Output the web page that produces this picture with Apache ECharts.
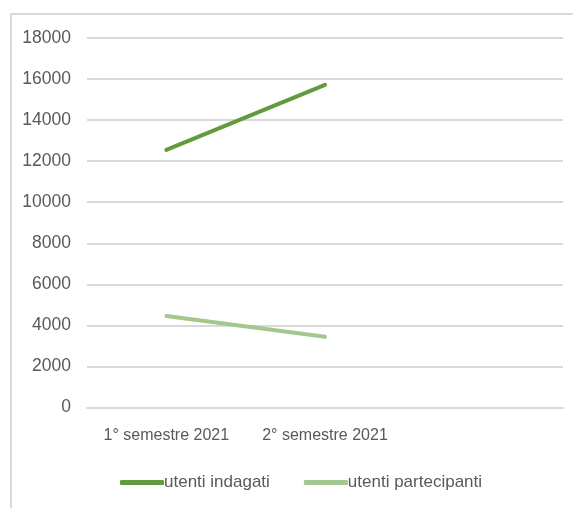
<!DOCTYPE html>
<html>
<head>
<meta charset="utf-8">
<script src="https://cdn.jsdelivr.net/npm/echarts@6/dist/echarts.min.js"></script>
<style>html,body{margin:0;padding:0;background:#fff;}#c{width:573px;height:508px;}</style>
</head>
<body>
<div id="c"></div>
<script>
const categories = ['1° semestre 2021', '2° semestre 2021', ''];
const utentiIndagati = [12550, 15720, null];
const utentiPartecipanti = [4460, 3450, null];
const seriesNames = ['utenti indagati', 'utenti partecipanti'];

const chart = echarts.init(document.getElementById('c'), null, {renderer: 'canvas'});
chart.setOption({
  animation: false,
  backgroundColor: '#ffffff',
  textStyle: {fontFamily: 'Liberation Sans'},
  graphic: [{
    type: 'rect', silent: true, z: -10,
    shape: {x: 11, y: 14, width: 700, height: 700},
    style: {fill: 'none', stroke: '#D9D9D9', lineWidth: 2}
  }],
  grid: {left: 87, right: 10, top: 38, bottom: 100.5, containLabel: false},
  legend: {
    left: 115, top: 469,
    itemWidth: 44, itemHeight: 5, itemGap: 34,
    icon: 'roundRect',
    textStyle: {fontSize: 17, color: '#595959', fontFamily: 'Liberation Sans', padding: [0, 0, 0, -5]},
    data: seriesNames
  },
  xAxis: {
    type: 'category',
    data: categories,
    boundaryGap: true,
    axisLine: {show: true, lineStyle: {color: '#D9D9D9', width: 2}},
    axisTick: {show: false},
    axisLabel: {fontSize: 16, color: '#595959', margin: 20, interval: 0}
  },
  yAxis: {
    type: 'value',
    min: 0, max: 18000, interval: 2000,
    axisLine: {show: false},
    axisTick: {show: false},
    splitLine: {lineStyle: {color: '#D9D9D9', width: 2}},
    axisLabel: {fontSize: 17.5, color: '#595959', margin: 16, formatter: function (v) { return String(v); }}
  },
  series: [
    {
      name: seriesNames[0], type: 'line', data: utentiIndagati,
      showSymbol: false, symbol: 'none',
      itemStyle: {color: '#629A3C'},
      lineStyle: {color: '#629A3C', width: 4, cap: 'round'}
    },
    {
      name: seriesNames[1], type: 'line', data: utentiPartecipanti,
      showSymbol: false, symbol: 'none',
      itemStyle: {color: '#A3C78C'},
      lineStyle: {color: '#A3C78C', width: 4, cap: 'round'}
    }
  ]
});
</script>
</body>
</html>
